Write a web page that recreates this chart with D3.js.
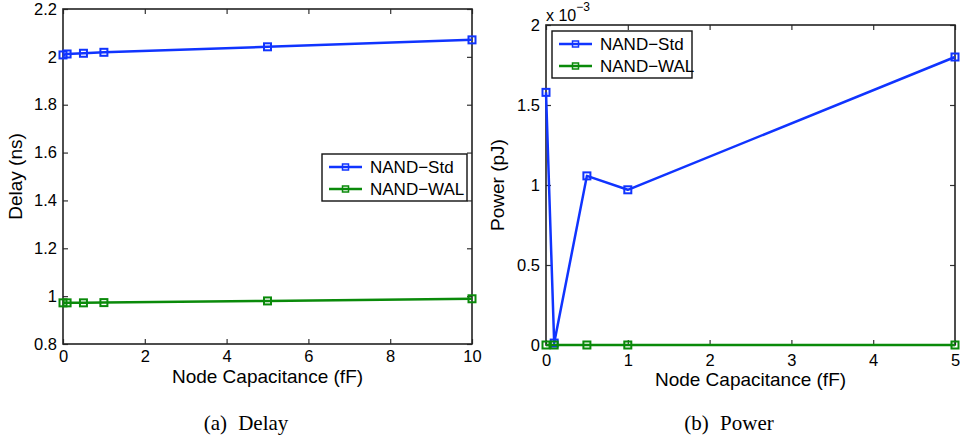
<!DOCTYPE html>
<html>
<head>
<meta charset="utf-8">
<script src="https://cdn.jsdelivr.net/npm/d3@7"></script>
<style>
  html, body { margin: 0; padding: 0; background: #fff; }
  svg { display: block; }
  text { font-family: "Liberation Sans", Arial, Helvetica, sans-serif; fill: #000; }
  .caption { font-family: "Liberation Serif", "DejaVu Serif", serif; word-spacing: 6px; }
</style>
</head>
<body>
<svg id="chart" width="960" height="440"></svg>
<script>
// Node capacitance sweep (fF)
const capDelay = [0, 0.1, 0.5, 1, 5, 10];
const capPower = [0, 0.1, 0.5, 1, 5];

// Delay (ns)
const delayStd = [2.008, 2.012, 2.015, 2.019, 2.042, 2.071];
const delayWal = [0.972, 0.972, 0.972, 0.973, 0.980, 0.989];

// Power (pJ)
const powerStd = [1.579e-3, 0.012e-3, 1.057e-3, 0.970e-3, 1.800e-3];
const powerWal = [0, 0, 0, 0, 0];

const seriesNames = ["NAND\u2212Std", "NAND\u2212WAL"];
const seriesColors = ["#1034ff", "#0a8a0a"];

const delayXTicks = [0, 2, 4, 6, 8, 10];
const delayYTicks = [0.8, 1.0, 1.2, 1.4, 1.6, 1.8, 2.0, 2.2];
const powerXTicks = [0, 1, 2, 3, 4, 5];
const powerYTicks = [0, 0.5e-3, 1e-3, 1.5e-3, 2e-3];

const svg = d3.select("#chart");

function panel(opts) {
  const g = svg.append("g");
  const x = d3.scaleLinear().domain(opts.xDomain).range([opts.left, opts.right]);
  const y = d3.scaleLinear().domain(opts.yDomain).range([opts.bottom, opts.top]);
  const tickLen = 5;

  // Axes on all four sides with inward ticks
  const axB = d3.axisBottom(x).tickValues(opts.xTicks).tickSize(-tickLen).tickPadding(opts.xPad).tickFormat(opts.xFmt);
  const axT = d3.axisTop(x).tickValues(opts.xTicks).tickSize(-tickLen).tickFormat("");
  const axL = d3.axisLeft(y).tickValues(opts.yTicks).tickSize(-tickLen).tickPadding(6).tickFormat(opts.yFmt);
  const axR = d3.axisRight(y).tickValues(opts.yTicks).tickSize(-tickLen).tickFormat("");

  const style = sel => {
    sel.select(".domain").attr("stroke", "#222").attr("stroke-width", 1.6);
    sel.selectAll(".tick line").attr("stroke", "#333").attr("stroke-width", 1.2);
    sel.selectAll(".tick text").style("font-size", "16.5px").attr("fill", "#111");
  };
  g.append("g").attr("transform", `translate(0,${opts.bottom})`).call(axB).call(style);
  g.append("g").attr("transform", `translate(0,${opts.top})`).call(axT).call(style);
  g.append("g").attr("transform", `translate(${opts.left},0)`).call(axL).call(style);
  g.append("g").attr("transform", `translate(${opts.right},0)`).call(axR).call(style);
  g.selectAll(".domain").attr("d", null);
  g.append("rect")
    .attr("x", opts.left).attr("y", opts.top)
    .attr("width", opts.right - opts.left).attr("height", opts.bottom - opts.top)
    .attr("fill", "none").attr("stroke", "#222").attr("stroke-width", 1.6);

  // Data lines and square markers
  const line = d3.line().x(d => x(d[0])).y(d => y(d[1]));
  opts.series.forEach((vals, i) => {
    const pts = opts.xs.map((v, k) => [v, vals[k]]);
    g.append("path").datum(pts)
      .attr("d", line).attr("fill", "none")
      .attr("stroke", seriesColors[i]).attr("stroke-width", 2.5)
      .attr("stroke-linejoin", "round");
    g.selectAll(null).data(pts).enter().append("rect")
      .attr("x", d => x(d[0]) - 3.5).attr("y", d => y(d[1]) - 3.5)
      .attr("width", 7).attr("height", 7)
      .attr("fill", "none").attr("stroke", seriesColors[i]).attr("stroke-width", 2);
  });

  // Axis titles
  g.append("text")
    .attr("x", (opts.left + opts.right) / 2).attr("y", opts.bottom + opts.titleGap)
    .attr("text-anchor", "middle").style("font-size", "19px")
    .text("Node Capacitance (fF)");
  g.append("text")
    .attr("transform", `translate(${opts.yLabelX},${(opts.top + opts.bottom) / 2}) rotate(-90)`)
    .attr("text-anchor", "middle").style("font-size", "19px")
    .text(opts.yLabel);

  // Legend
  const lg = g.append("g").attr("transform", `translate(${opts.legend[0]},${opts.legend[1]})`);
  lg.append("rect").attr("width", opts.legendW).attr("height", 47)
    .attr("fill", "#fff").attr("stroke", "#111").attr("stroke-width", 1.4);
  seriesNames.forEach((name, i) => {
    const yy = 13 + i * 22;
    lg.append("line").attr("x1", 7).attr("x2", 40).attr("y1", yy).attr("y2", yy)
      .attr("stroke", seriesColors[i]).attr("stroke-width", 2.4);
    lg.append("rect").attr("x", 20.5).attr("y", yy - 3).attr("width", 6).attr("height", 6)
      .attr("fill", "none").attr("stroke", seriesColors[i]).attr("stroke-width", 1.5);
    lg.append("text").attr("x", 48).attr("y", yy + 6).style("font-size", "17px").text(name);
  });

  // Caption
  svg.append("text").attr("class", "caption")
    .attr("x", opts.captionX).attr("y", 430)
    .attr("text-anchor", "middle").style("font-size", "21px")
    .text(opts.caption);

  return { g, x, y };
}

panel({
  left: 63, right: 472, top: 9, bottom: 344,
  xDomain: [0, 10], yDomain: [0.8, 2.2],
  xTicks: delayXTicks, yTicks: delayYTicks, xPad: 6, titleGap: 39,
  xFmt: d3.format("d"), yFmt: d => d3.format("~g")(+d.toFixed(1)),
  xs: capDelay, series: [delayStd, delayWal],
  yLabel: "Delay (ns)", yLabelX: 22,
  legend: [322, 154], legendW: 145, caption: "(a) Delay", captionX: 246
});

panel({
  left: 546, right: 955, top: 25, bottom: 345,
  xDomain: [0, 5], yDomain: [0, 2e-3],
  xTicks: powerXTicks, yTicks: powerYTicks, xPad: 9, titleGap: 41,
  xFmt: d3.format("d"), yFmt: d => d3.format("~g")(+(d * 1e3).toFixed(1)),
  xs: capPower, series: [powerStd, powerWal],
  yLabel: "Power (pJ)", yLabelX: 504,
  legend: [552, 31], legendW: 140, caption: "(b) Power", captionX: 729
});

// Exponent multiplier for the power axis
const ex = svg.append("text").attr("x", 546).attr("y", 21).style("font-size", "16px");
ex.append("tspan").text("x 10");
ex.append("tspan").attr("dy", -10).style("font-size", "12px").text("\u22123");
</script>
</body>
</html>
